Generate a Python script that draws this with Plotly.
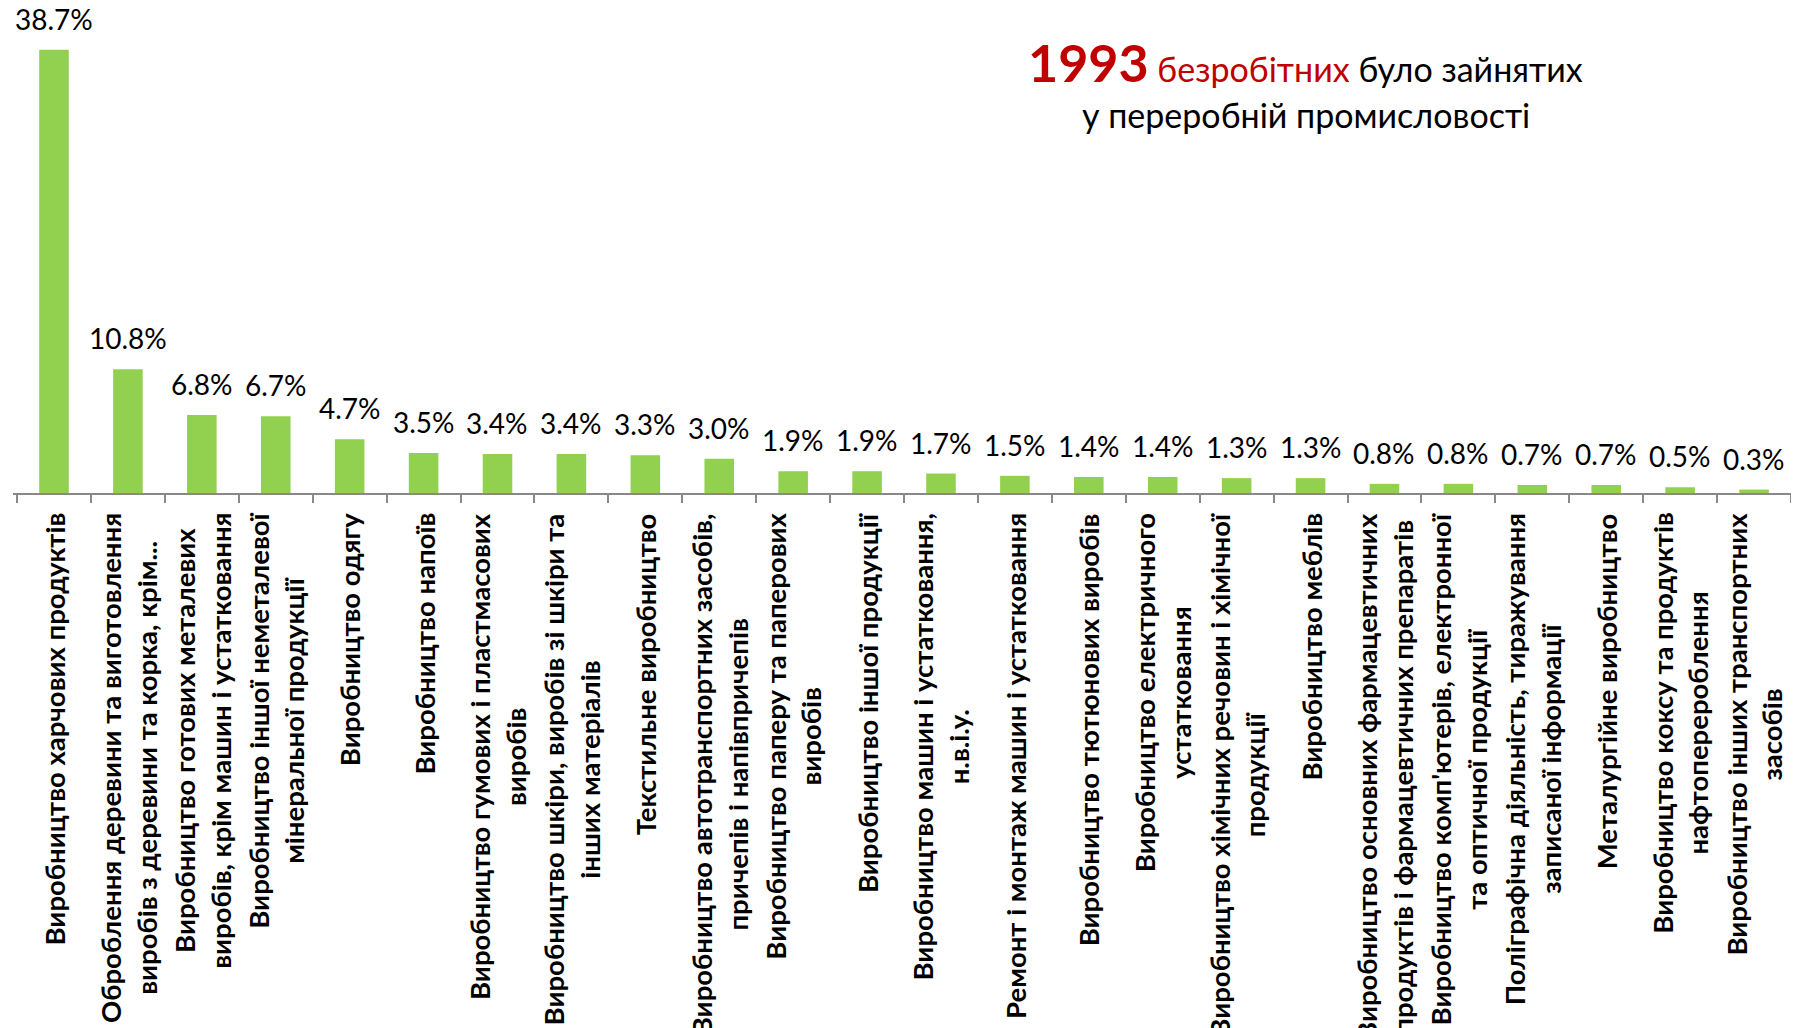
import plotly.graph_objects as go

# Частки безробітних за видами діяльності переробної промисловості, %
categories = [
    "Виробництво харчових продуктів",
    "Оброблення деревини та виготовлення<br>виробів з деревини та корка, крім...",
    "Виробництво готових металевих<br>виробів, крім машин і устатковання",
    "Виробництво іншої неметалевої<br>мінеральної продукції",
    "Виробництво одягу",
    "Виробництво напоїв",
    "Виробництво гумових і пластмасових<br>виробів",
    "Виробництво шкіри, виробів зі шкіри та<br>інших матеріалів",
    "Текстильне виробництво",
    "Виробництво автотранспортних засобів,<br>причепів і напівпричепів",
    "Виробництво паперу та паперових<br>виробів",
    "Виробництво іншої продукції",
    "Виробництво машин і устатковання,<br>н.в.і.у.",
    "Ремонт і монтаж машин і устатковання",
    "Виробництво тютюнових виробів",
    "Виробництво електричного<br>устатковання",
    "Виробництво хімічних речовин і хімічної<br>продукції",
    "Виробництво меблів",
    "Виробництво основних фармацевтичних<br>продуктів і фармацевтичних препаратів",
    "Виробництво комп'ютерів, електронної<br>та оптичної продукції",
    "Поліграфічна діяльність, тиражування<br>записаної інформації",
    "Металургійне виробництво",
    "Виробництво коксу та продуктів<br>нафтоперероблення",
    "Виробництво інших транспортних<br>засобів",
]
shares = [38.7, 10.8, 6.8, 6.7, 4.7, 3.5, 3.4, 3.4, 3.3, 3.0, 1.9, 1.9,
          1.7, 1.5, 1.4, 1.4, 1.3, 1.3, 0.8, 0.8, 0.7, 0.7, 0.5, 0.3]
total_unemployed = 1993

FONT = "Lato, 'Open Sans', sans-serif"
BAR_COLOR = "#92D050"
AXIS_COLOR = "#898989"
RED = "#C00000"

# ключі категорій без переносів рядків (підписи малюємо окремо)
keys = [c.replace("<br>", " ") for c in categories]

fig = go.Figure()

fig.add_trace(go.Bar(
    x=keys,
    y=shares,
    marker=dict(color=BAR_COLOR, line=dict(width=0)),
    hoverinfo="skip",
))

# підписи значень над стовпчиками
for k, v in zip(keys, shares):
    fig.add_annotation(
        x=k, y=v, xref="x", yref="y",
        text=f"{v:.1f}%",
        showarrow=False,
        yanchor="bottom", xanchor="center",
        yshift=12,
        font=dict(family=FONT, size=28, color="black"),
    )

# підписи категорій (вертикальні, рядки по центру)
for k, c in zip(keys, categories):
    fig.add_annotation(
        x=k, y=0, xref="x", yref="paper",
        text=f"<b>{c}</b>",
        showarrow=False,
        textangle=-90,
        xanchor="center", yanchor="top",
        yshift=-18,
        align="center",
        font=dict(family=FONT, size=27.5, color="black"),
    )

# заголовок
fig.add_annotation(
    x=0.727, y=0.912, xref="paper", yref="paper",
    text=(f"<b><span style='font-size:52px;color:{RED}'>{total_unemployed}</span></b> "
          f"<span style='color:{RED}'>безробітних</span> було зайнятих"),
    showarrow=False, xanchor="center", yanchor="middle",
    font=dict(family=FONT, size=34, color="black"),
)
fig.add_annotation(
    x=0.727, y=0.80, xref="paper", yref="paper",
    text="у переробній промисловості",
    showarrow=False, xanchor="center", yanchor="middle",
    font=dict(family=FONT, size=34, color="black"),
)

fig.update_layout(
    width=1799,
    height=1028,
    margin=dict(l=5, r=16, t=12, b=543),
    plot_bgcolor="white",
    paper_bgcolor="white",
    bargap=0.6,
    showlegend=False,
    xaxis=dict(
        type="category",
        showticklabels=False,
        showgrid=False,
        showline=True,
        linecolor=AXIS_COLOR,
        linewidth=2,
        ticks="outside",
        tickson="boundaries",
        ticklen=8,
        tickwidth=2,
        tickcolor=AXIS_COLOR,
        zeroline=False,
    ),
    yaxis=dict(
        range=[0, 41.3],
        visible=False,
        showgrid=False,
        zeroline=False,
    ),
)

fig.write_html("out.html")
